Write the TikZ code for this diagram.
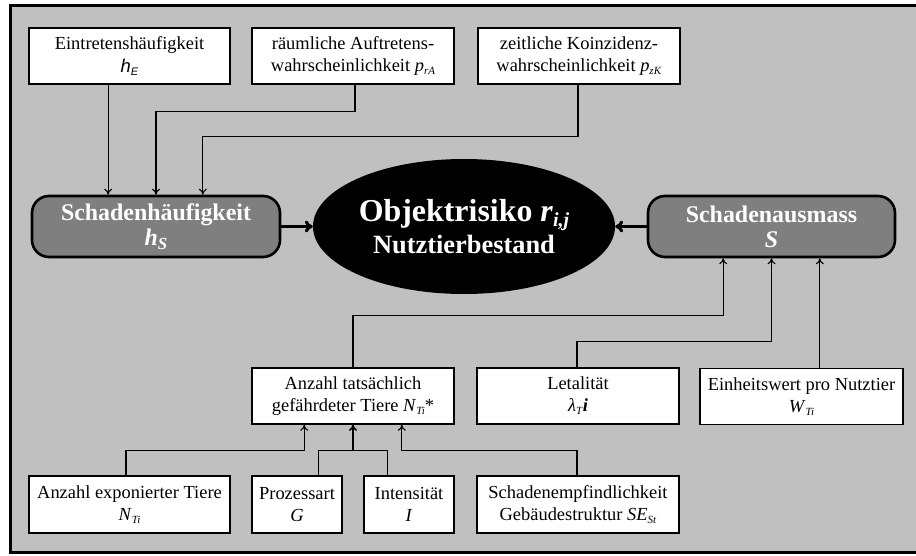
\documentclass[tikz,border=0pt]{standalone}
\usepackage{fontspec}
\setmainfont{Liberation Serif}
\newfontfamily\arialfont{Liberation Sans}
\usetikzlibrary{shapes.geometric,calc,arrows.meta}

% subscript in small type, lowered below the baseline
\newcommand{\sbx}[2][0.62]{{\fontsize{#1em}{#1em}\selectfont\raisebox{-0.22em}{#2}}}
\newcommand{\smallsub}[1]{\raisebox{-3pt}{\fontsize{11}{11}\selectfont #1}}
\newcommand{\bigsub}[1]{\raisebox{-4pt}{\fontsize{17}{17}\selectfont #1}}

\definecolor{panelgray}{RGB}{192,192,192}
\definecolor{keygray}{RGB}{127,127,127}

\begin{document}
\begin{tikzpicture}[x=1bp,y=-1bp,
  factor/.style={draw=black,line width=1.6bp,fill=white,rectangle,
    minimum height=56bp,inner sep=0pt,align=center,
    font=\fontsize{18.5}{22}\selectfont},
  keybox/.style={draw=black,line width=2.6bp,fill=keygray,rounded corners=17bp,
    minimum width=247bp,minimum height=61bp,inner sep=0pt,align=center,
    text=white,font=\fontsize{24}{25}\selectfont\bfseries},
  arr/.style={draw=black,line width=1.1bp,-{To[length=6bp,width=8bp]}},
  link/.style={draw=black,line width=1.1bp},
  bigarr/.style={draw=black,line width=3bp,-{To[length=8bp,width=12bp]}}]

% page and panel
\fill[white] (0,0) rectangle (916,556);
\useasboundingbox (0,0) rectangle (916,556);
\begin{scope}
  \clip (0,0) rectangle (916,556);
  \draw[line width=3bp,fill=panelgray] (10.5,6) rectangle (930,552);
\end{scope}

% top row
\node[factor,minimum width=201bp] (E) at (129.5,56)
  {Eintretenshäufigkeit\\[1pt]{\arialfont\itshape h}\smallsub{\arialfont\itshape E}};
\node[factor,minimum width=202bp] (rA) at (353,56)
  {räumliche Auftretens-\\wahrscheinlichkeit \textit{p}\smallsub{\textit{rA}}};
\node[factor,minimum width=202bp] (zK) at (579,56)
  {zeitliche Koinzidenz-\\wahrscheinlichkeit \textit{p}\smallsub{\textit{zK}}};

% middle row
\node[keybox,minimum width=248bp] (hS) at (156,226.5)
  {Schadenhäufigkeit\\\textit{h}\bigsub{\textit{S}}};
\node[ellipse,fill=black,minimum width=302bp,minimum height=135bp,inner sep=0pt,
  align=center,text=white] (R) at (464,226.5)
  {{\fontsize{32}{34}\selectfont\bfseries Objektrisiko \textit{r}\raisebox{-5pt}{\fontsize{20}{20}\selectfont\textit{i,j}}}\\[3pt]
   {\fontsize{26.5}{28}\selectfont\bfseries Nutztierbestand}};
\node[keybox] (S) at (771.5,226.5)
  {Schadenausmass\\\textit{S}};

% lower rows
\node[factor,minimum width=202bp] (NA) at (353,396)
  {Anzahl tatsächlich\\gefährdeter Tiere \textit{N}\smallsub{\textit{Ti}}*};
\node[factor,minimum width=202bp] (L) at (578,396)
  {Letalität\\\textit{λ}\smallsub{\textit{T}}\textbf{\textit{i}}};
\node[factor,minimum width=203bp] (W) at (801.5,396.5)
  {Einheitswert pro Nutztier\\\textit{W}\smallsub{\textit{Ti}}};

\node[factor,minimum width=201bp,minimum height=57bp] (NT) at (129.5,504.5)
  {Anzahl exponierter Tiere\\\textit{N}\smallsub{\textit{Ti}}};
\node[factor,minimum width=90bp,minimum height=57bp] (G) at (297,504.5)
  {Prozessart\\\textit{G}};
\node[factor,minimum width=90bp,minimum height=57bp] (I) at (409,504.5)
  {Intensität\\\textit{I}};
\node[factor,minimum width=202bp,minimum height=57bp] (SE) at (578,504.5)
  {Schadenempfindlichkeit\\Gebäudestruktur \textit{SE}\smallsub{\textit{St}}};

% inputs of the damage frequency
\draw[arr] ([xshift=-48]hS.north |- E.south) -- ([xshift=-48]hS.north);
\draw[arr] ([xshift=2]rA.south) -- ++(0,27) -| (hS.north);
\draw[arr] ([xshift=-1]zK.south) -- ++(0,52) -| ([xshift=47]hS.north);

% main arrows into the object risk
\draw[bigarr] (hS.east) -- (R.west);
\draw[bigarr] (S.west) -- (R.east);

% inputs of the damage extent
\draw[arr] (NA.north) -- ++(0,-52) -| ([xshift=-48.5]S.south);
\draw[arr] ([xshift=-1]L.north) -- ++(0,-26) -| (S.south);
\draw[arr] ([xshift=48.5]S.south |- W.north) -- ([xshift=48.5]S.south);

% inputs of the number of animals at risk
\draw[arr] ([xshift=-3.5]NT.north) -- ++(0,-25) -| ([xshift=-49]NA.south);
\coordinate (GI) at ($(G.north)!0.5!(I.north)+(0,-25)$);
\draw[link] ([xshift=22]G.north) |- (GI) -| ([xshift=-22]I.north);
\draw[arr,line width=1.6bp] (GI) -- (NA.south);
\draw[arr] ([xshift=-1]SE.north) -- ++(0,-25) -| ([xshift=49]NA.south);
\end{tikzpicture}
\end{document}
